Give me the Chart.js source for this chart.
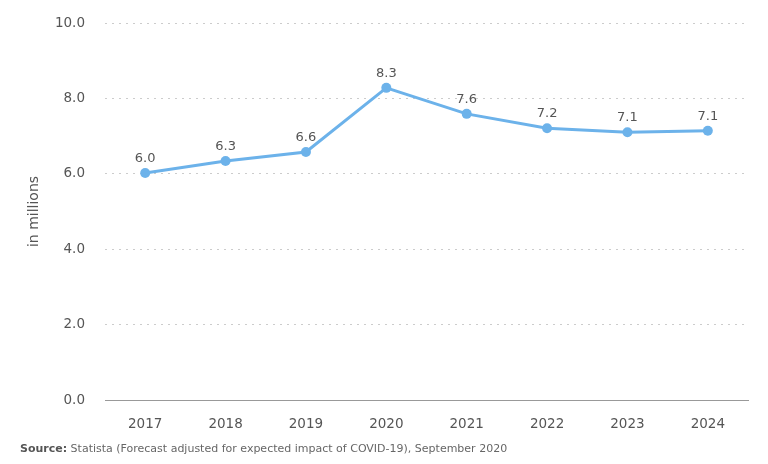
<!DOCTYPE html>
<html>
<head>
<meta charset="utf-8">
<script src="https://cdn.jsdelivr.net/npm/chart.js@4"></script>
<style>
  html, body { margin: 0; padding: 0; background: #fff; }
  #wrap { position: relative; width: 768px; height: 464px; }
  #source { position: absolute; left: 20px; top: 442px; font-family: "DejaVu Sans", sans-serif; font-size: 11px; color: #666; }
  #source b { color: #555; }
</style>
</head>
<body>
<div id="wrap">
  <canvas id="chart" width="768" height="464"></canvas>
  <div id="source"><b>Source:</b> Statista (Forecast adjusted for expected impact of COVID-19), September 2020</div>
</div>
<script>
(() => {
    const years = ['2017', '2018', '2019', '2020', '2021', '2022', '2023', '2024'];
    const values = [6.02, 6.34, 6.58, 8.28, 7.59, 7.21, 7.10, 7.14];
    const yTicks = [0, 2, 4, 6, 8, 10];

    const LINE_COLOR = '#6cb2ea';
    const TEXT_COLOR = '#555';
    const FONT = '"DejaVu Sans", sans-serif';

    // etiquetas de valor acima dos pontos
    const valueLabels = {
        id: 'valueLabels',
        afterDatasetsDraw(chart) {
            const ctx = chart.ctx;
            const meta = chart.getDatasetMeta(0);
            ctx.save();
            ctx.font = '13px ' + FONT;
            ctx.fillStyle = TEXT_COLOR;
            ctx.textAlign = 'center';
            ctx.textBaseline = 'bottom';
            meta.data.forEach((pt, i) => {
                ctx.fillText(values[i].toFixed(1), pt.x, pt.y - 8);
            });
            ctx.restore();
        }
    };

    new Chart(document.getElementById('chart'), {
        type: 'line',
        data: {
            labels: years,
            datasets: [{
                data: values,
                borderColor: LINE_COLOR,
                backgroundColor: LINE_COLOR,
                borderWidth: 3,
                pointRadius: 5,
                pointBackgroundColor: LINE_COLOR,
                pointBorderWidth: 0,
                tension: 0
            }]
        },
        options: {
            responsive: false,
            animation: false,
            layout: { padding: { top: 23, right: 20, bottom: 30, left: 0 } },
            plugins: { legend: { display: false }, tooltip: { enabled: false } },
            scales: {
                x: {
                    offset: true,
                    grid: { display: false },
                    border: { display: true, color: '#999', width: 1 },
                    ticks: { color: TEXT_COLOR, font: { family: FONT, size: 13.5 }, padding: 8 },
                    afterFit(scale) { scale.height = 34; }
                },
                y: {
                    min: 0,
                    max: 10,
                    afterBuildTicks(scale) { scale.ticks = yTicks.map(v => ({ value: v })); },
                    grid: { color: '#ccc', lineWidth: 1, drawTicks: true, tickLength: 20, tickColor: 'rgba(0,0,0,0)' },
                    border: { display: false, dash: [2, 5] },
                    ticks: {
                        color: TEXT_COLOR,
                        font: { family: FONT, size: 13.5 },
                        padding: 0,
                        callback: v => v.toFixed(1)
                    },
                    title: {
                        display: true,
                        text: 'in millions',
                        color: TEXT_COLOR,
                        font: { family: FONT, size: 14 },
                        padding: { top: 26, bottom: 0 }
                    },
                    afterFit(scale) { scale.width = 105; }
                }
            }
        },
        plugins: [valueLabels]
    });
})();
</script>
</body>
</html>
